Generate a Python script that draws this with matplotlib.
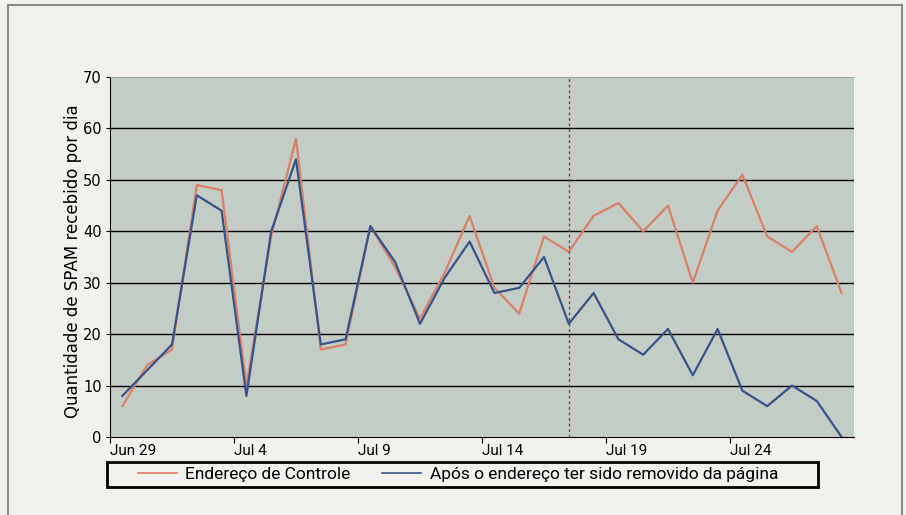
import numpy as np
import matplotlib
matplotlib.use('Agg')
import matplotlib.pyplot as plt
from matplotlib.lines import Line2D
from matplotlib.patches import Rectangle

# dados (30 dias, a partir de 29 de junho)
controle = [6, 14, 17, 49, 48, 10, 39, 58, 17, 18,
            41, 33, 23, 32, 43, 29, 24, 39, 36, 43,
            45.5, 40, 45, 30, 44, 51, 39, 36, 41, 28]
removido = [8, 13, 18, 47, 44, 8, 40, 54, 18, 19,
            41, 34, 22, 31, 38, 28, 29, 35, 22, 28,
            19, 16, 21, 12, 21, 9, 6, 10, 7, 0]
rotulos_x = ['Jun 29', 'Jul 4', 'Jul 9', 'Jul 14', 'Jul 19', 'Jul 24']
pos_rotulos = [0, 5, 10, 15, 20, 25]
dia_corte = 18.5

dias = np.arange(len(controle)) + 0.5

fonte_estreita = ['Roboto', 'DejaVu Sans']

fig = plt.figure(figsize=(9.06, 5.15), dpi=100)
fig.patch.set_facecolor('#f2f1ee')
ax = fig.add_axes([110/906, 78/515, 744/906, 360/515])
ax.set_facecolor('#c4ccc6')

ax.plot(dias, controle, color='#d98068', lw=1.6, label='Endereço de Controle')
ax.plot(dias, removido, color='#37548a', lw=1.6, label='Após o endereço ter sido removido da página')
ax.axvline(dia_corte, color='#555555', lw=1, ls=(0, (2, 2)))

ax.set_xlim(0, 30)
ax.set_ylim(0, 70)
ax.set_yticks(range(0, 71, 10))
for v in range(10, 70, 10):
    ax.axhline(v, color='black', lw=1.0, zorder=1)
ax.set_xticks(pos_rotulos)
ax.set_xticklabels(rotulos_x, ha='left', family=fonte_estreita, fontsize=11)
ax.tick_params(axis='x', length=4, width=0.8, pad=1)
ax.tick_params(axis='y', length=3, width=0.8, labelsize=10.5, pad=3)

ax.spines['right'].set_visible(False)
ax.spines['top'].set_color('#9a9a9a')
ax.spines['top'].set_linewidth(0.6)
ax.spines['left'].set_linewidth(0.8)
ax.spines['bottom'].set_linewidth(0.8)

fig.text(73/906, 1 - 261/515, 'Quantidade de SPAM recebido por dia', rotation=90,
         ha='center', va='center', fontsize=12)

# caixa da legenda
fig.patches.append(Rectangle((107/906, 28/515), 711/906, 25/515, transform=fig.transFigure,
                             fill=False, lw=2, ec='black'))
leg = fig.legend(loc='center left', bbox_to_anchor=(129/906, 41/515), ncol=2,
                 frameon=False, borderpad=0, handlelength=2.25, columnspacing=1.8,
                 handletextpad=0.5, prop={'family': fonte_estreita, 'size': 12.5})
for h in leg.legend_handles:
    h.set_linewidth(1.2)

# moldura da figura
fig.add_artist(Line2D([8/906, 8/906], [0, 1 - 5/515], color='#8a8a8a', lw=1.5))
fig.add_artist(Line2D([8/906, 902/906], [1 - 5/515, 1 - 5/515], color='#8a8a8a', lw=1.5))
fig.add_artist(Line2D([902/906, 902/906], [0, 1 - 5/515], color='#8a8a8a', lw=1.5))

fig.savefig('out.png', dpi=100, facecolor=fig.get_facecolor())
